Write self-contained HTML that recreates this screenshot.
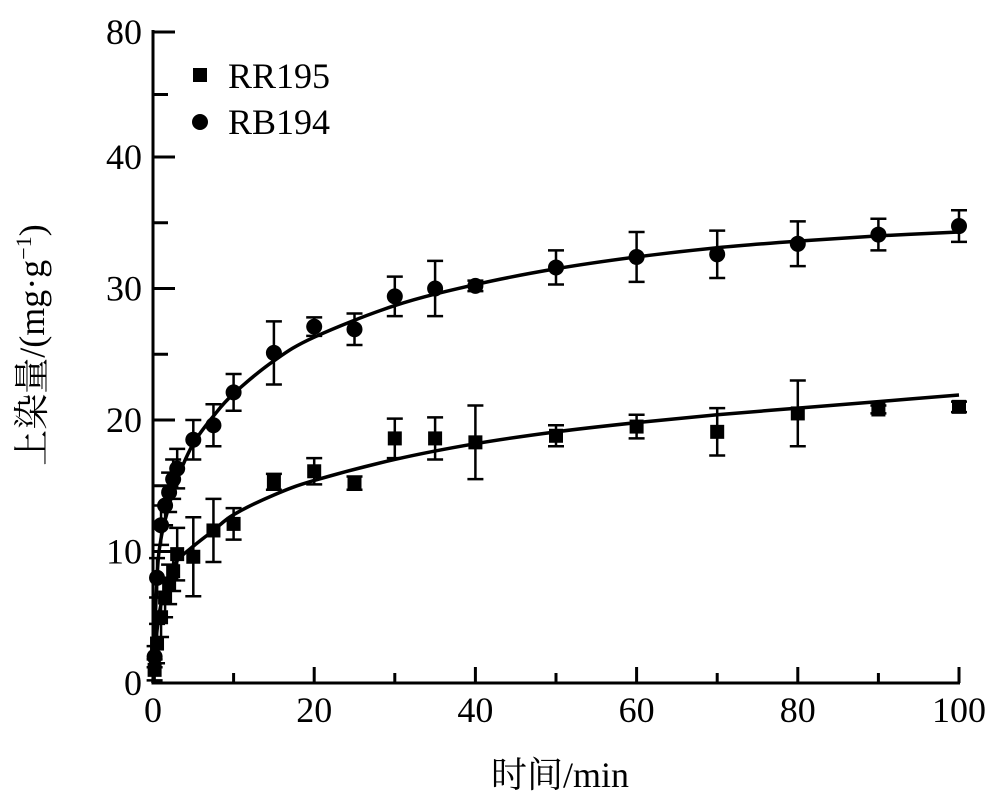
<!DOCTYPE html>
<html><head><meta charset="utf-8"><style>
html,body{margin:0;padding:0;background:#fff;}
svg{display:block;font-family:"Liberation Serif","Noto Serif CJK SC",serif;}
</style></head><body>
<svg id="chart" width="1000" height="802" viewBox="0 0 1000 802"></svg>
<script>
const times=[0.2,0.5,1,1.5,2,2.5,3,5,7.5,10,15,20,25,30,35,40,50,60,70,80,90,100];
const rbValues=[2,8,12,13.5,14.5,15.5,16.3,18.5,19.6,22.1,25.1,27.1,26.9,29.4,30.0,30.2,31.6,32.4,32.6,33.4,34.1,34.75];
const rbErrors=[0.8,1.5,1.5,1.5,1.5,1.5,1.5,1.5,1.6,1.4,2.4,0.7,1.2,1.5,2.1,0.4,1.3,1.9,1.8,1.7,1.2,1.2];
const rrValues=[1,3,5,6.5,7.5,8.5,9.8,9.6,11.6,12.1,15.3,16.1,15.2,18.6,18.6,18.3,18.8,19.5,19.1,20.5,20.8,21.0];
const rrErrors=[0.8,1.5,1.5,1.5,1.5,1.5,2,3,2.4,1.2,0.6,1.0,0.5,1.5,1.6,2.8,0.8,0.9,1.8,2.5,0.3,0.4];
const fitTimes=[0,0.5,1,2,3,5,7.5,10,15,20,30,40,50,60,70,80,90,100];
const rbFit=[0,8,11,13.5,15.5,18.2,20.3,22,24.5,26.3,28.7,30.3,31.5,32.4,33.1,33.6,34.0,34.3];
const rrFit=[0,4,6,8,9.3,10.4,11.6,12.8,14.3,15.4,17,18.2,19.1,19.8,20.4,20.9,21.4,21.9];
const yTickValues=[0,10,20,30,40,80];
const yTickLabels=["0","10","20","30","40","80"];
const yMinorValues=[5,15,25,35,60];
const xTickValues=[0,20,40,60,80,100];
const xMinorValues=[10,30,50,70,90];

const NS="http://www.w3.org/2000/svg";
const svg=document.getElementById('chart');
function X(t){return 153+t*8.06;}
function Y(v){return v<=40?683-v*13.15:157-(v-40)*3.125;}
function mk(tag,attrs,parent){const e=document.createElementNS(NS,tag);for(const k in attrs)e.setAttribute(k,attrs[k]);(parent||svg).appendChild(e);return e;}

const ax=mk('path',{d:`M153,30 V683 H960`,stroke:'#000','stroke-width':3,fill:'none'});


yTickValues.forEach((v,i)=>{
  const t=mk('line',{x1:153,x2:175,y1:Y(v),y2:Y(v),stroke:'#000','stroke-width':3});
  
  
  const l=mk('text',{x:142,y:Y(v)+12,'text-anchor':'end','font-size':36});
  l.textContent=yTickLabels[i];
  
  
});
yMinorValues.forEach(v=>{
  const t=mk('line',{x1:153,x2:168,y1:Y(v),y2:Y(v),stroke:'#000','stroke-width':3});
  
  
});
xTickValues.forEach(v=>{
  const t=mk('line',{x1:X(v),x2:X(v),y1:683,y2:667,stroke:'#000','stroke-width':3});
  
  
  const l=mk('text',{x:X(v),y:722,'text-anchor':'middle','font-size':36});
  l.textContent=String(v);
  
  
});
xMinorValues.forEach(v=>{
  const t=mk('line',{x1:X(v),x2:X(v),y1:683,y2:673,stroke:'#000','stroke-width':3});
  
  
});
const xt=mk('text',{x:560,y:787,'text-anchor':'middle','font-size':36});
xt.textContent='时间/min';


const yt=mk('text',{x:0,y:0,'text-anchor':'middle','font-size':36,transform:'translate(44,345) rotate(-90)'});
yt.innerHTML='上染量/(mg·g<tspan dy="-13" font-size="22">−1</tspan><tspan dy="13">)</tspan>';



function smooth(xs,ys){
  const p=xs.map((t,i)=>[X(t),Y(ys[i])]);
  let d=`M${p[0][0]},${p[0][1]}`;
  for(let i=0;i<p.length-1;i++){
    const p0=p[Math.max(0,i-1)],p1=p[i],p2=p[i+1],p3=p[Math.min(p.length-1,i+2)];
    const c1=[p1[0]+(p2[0]-p0[0])/6,p1[1]+(p2[1]-p0[1])/6];
    const c2=[p2[0]-(p3[0]-p1[0])/6,p2[1]-(p3[1]-p1[1])/6];
    d+=` C${c1[0]},${c1[1]} ${c2[0]},${c2[1]} ${p2[0]},${p2[1]}`;
  }
  return d;
}
function series(vals,errs,fit,shape,name){
  const g=mk('g',{});
  
  
  const f=mk('path',{d:smooth(fitTimes,fit),stroke:'#000','stroke-width':3.5,fill:'none'},g);
  
  
  times.forEach((t,i)=>{
    const x=X(t),y=Y(vals[i]),yh=Y(vals[i]+errs[i]),yl=Y(vals[i]-errs[i]);
    const e=mk('path',{d:`M${x},${yh} V${yl} M${x-8},${yh} H${x+8} M${x-8},${yl} H${x+8}`,stroke:'#000','stroke-width':2.5,fill:'none'},g);
    
    
    let m;
    if(shape==='circle') m=mk('circle',{cx:x,cy:y,r:8,fill:'#000'},g);
    else m=mk('rect',{x:x-7,y:y-7,width:14,height:14,fill:'#000'},g);
    
    
  });
}
series(rrValues,rrErrors,rrFit,'square','rr195');
series(rbValues,rbErrors,rbFit,'circle','rb194');

const lg=mk('g',{});


const ls=mk('rect',{x:193,y:68,width:14,height:14,fill:'#000'},lg);


const lt1=mk('text',{x:228,y:88,'font-size':36},lg);
lt1.textContent='RR195';


const lc=mk('circle',{cx:200,cy:122,r:8,fill:'#000'},lg);


const lt2=mk('text',{x:228,y:134,'font-size':36},lg);
lt2.textContent='RB194';


</script>
</body></html>
